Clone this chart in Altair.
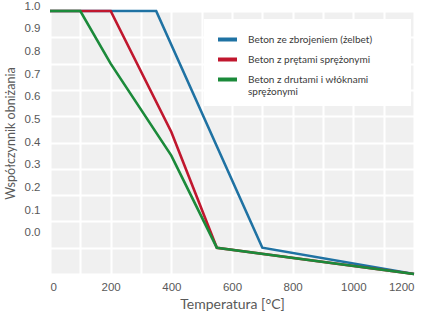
import altair as alt
import pandas as pd

series_names = [
    "Beton ze zbrojeniem (żelbet)",
    "Beton z prętami sprężonymi",
    "Beton z drutami i włóknami sprężonymi",
]
series_colors = ["#1F72A3", "#C0172E", "#1B8A3A"]

blue_temp = [0, 350, 700, 1200]
blue_val = [1.0, 1.0, 0.1, 0.0]
red_temp = [0, 200, 400, 550, 1200]
red_val = [1.0, 1.0, 0.54, 0.1, 0.0]
green_temp = [0, 100, 200, 400, 550, 1200]
green_val = [1.0, 1.0, 0.8, 0.45, 0.1, 0.0]

x_grid_values = [0, 100, 200, 300, 400, 500, 600, 700, 800, 900, 1000, 1100, 1200]
y_grid_values = [0.0, 0.1, 0.2, 0.3, 0.4, 0.5, 0.6, 0.7, 0.8, 0.9, 1.0]
y_label_values = [0.0, 0.1, 0.2, 0.3, 0.4, 0.5, 0.6, 0.7, 0.8, 0.9, 1.0]

rows = []
for name, temps, vals in zip(series_names, [blue_temp, red_temp, green_temp], [blue_val, red_val, green_val]):
    for t, v in zip(temps, vals):
        rows.append({"series": name, "temp": t, "val": v})
df = pd.DataFrame(rows)

label_expr = (
    "datum.label == 'Beton z drutami i włóknami sprężonymi' ? "
    "['Beton z drutami i włóknami', 'sprężonymi'] : datum.label"
)

lines = alt.Chart(df).mark_line(strokeWidth=2.6).encode(
    x=alt.X(
        "temp:Q",
        scale=alt.Scale(domain=[0, 1200], nice=False, zero=False),
        axis=alt.Axis(
            values=x_grid_values, format="d",
            labelExpr="datum.value % 200 == 0 ? datum.label : ''",
            title="Temperatura [°C]",
            grid=True, gridColor="white", gridWidth=2,
            domain=False, ticks=False,
            labelFont="Liberation Sans", labelFontSize=11.5, labelColor="#595959",
            labelPadding=7,
            titleFont="Lato", titleFontSize=14, titleColor="#595959",
            titleFontWeight="normal", titlePadding=5,
        ),
    ),
    y=alt.Y(
        "val:Q",
        scale=alt.Scale(domain=[0, 1], nice=False),
        axis=alt.Axis(
            values=y_grid_values, labels=False, ticks=False, domain=False,
            title=None, grid=True, gridColor="white", gridWidth=2,
        ),
    ),
    color=alt.Color(
        "series:N",
        scale=alt.Scale(domain=series_names, range=series_colors),
        legend=alt.Legend(
            title=" ", titleFontSize=5, titleOrient="right", titlePadding=30,
            orient="none", legendX=154, legendY=8,
            fillColor="white", padding=9,
            symbolType="stroke", symbolStrokeWidth=4, symbolSize=361,
            symbolOffset=3,
            labelFont="Lato", labelFontSize=10, labelColor="#3A3A3A",
            labelOffset=9, rowPadding=0, labelLimit=400,
            labelExpr=label_expr,
        ),
    ),
)

label_axis = alt.Chart(df).mark_point(opacity=0, clip=True).encode(
    y=alt.Y(
        "val:Q",
        scale=alt.Scale(domain=[0, 1], range=[221.7, -5], nice=False, zero=False),
        axis=alt.Axis(
            orient="left", values=y_label_values, format=".1f",
            grid=False, ticks=False, domain=False,
            labelFont="Liberation Sans", labelFontSize=11.5, labelColor="#595959",
            labelPadding=10,
            title="Współczynnik obniżania",
            titleFont="Lato", titleFontSize=12.5, titleColor="#595959",
            titleFontWeight="normal",
            titleX=-40, titleY=122, titleAngle=-90, titleBaseline="middle",
            titleAlign="center",
        ),
    ),
)

chart = (
    alt.layer(lines, label_axis)
    .resolve_scale(y="independent")
    .properties(
        width=364, height=263,
        padding={"left": 4, "top": 0, "right": 5, "bottom": 5},
    )
    .configure_view(fill="#F0F0F0", stroke=None)
)

chart.save("out.html", embed_options={"renderer": "svg", "actions": False})
